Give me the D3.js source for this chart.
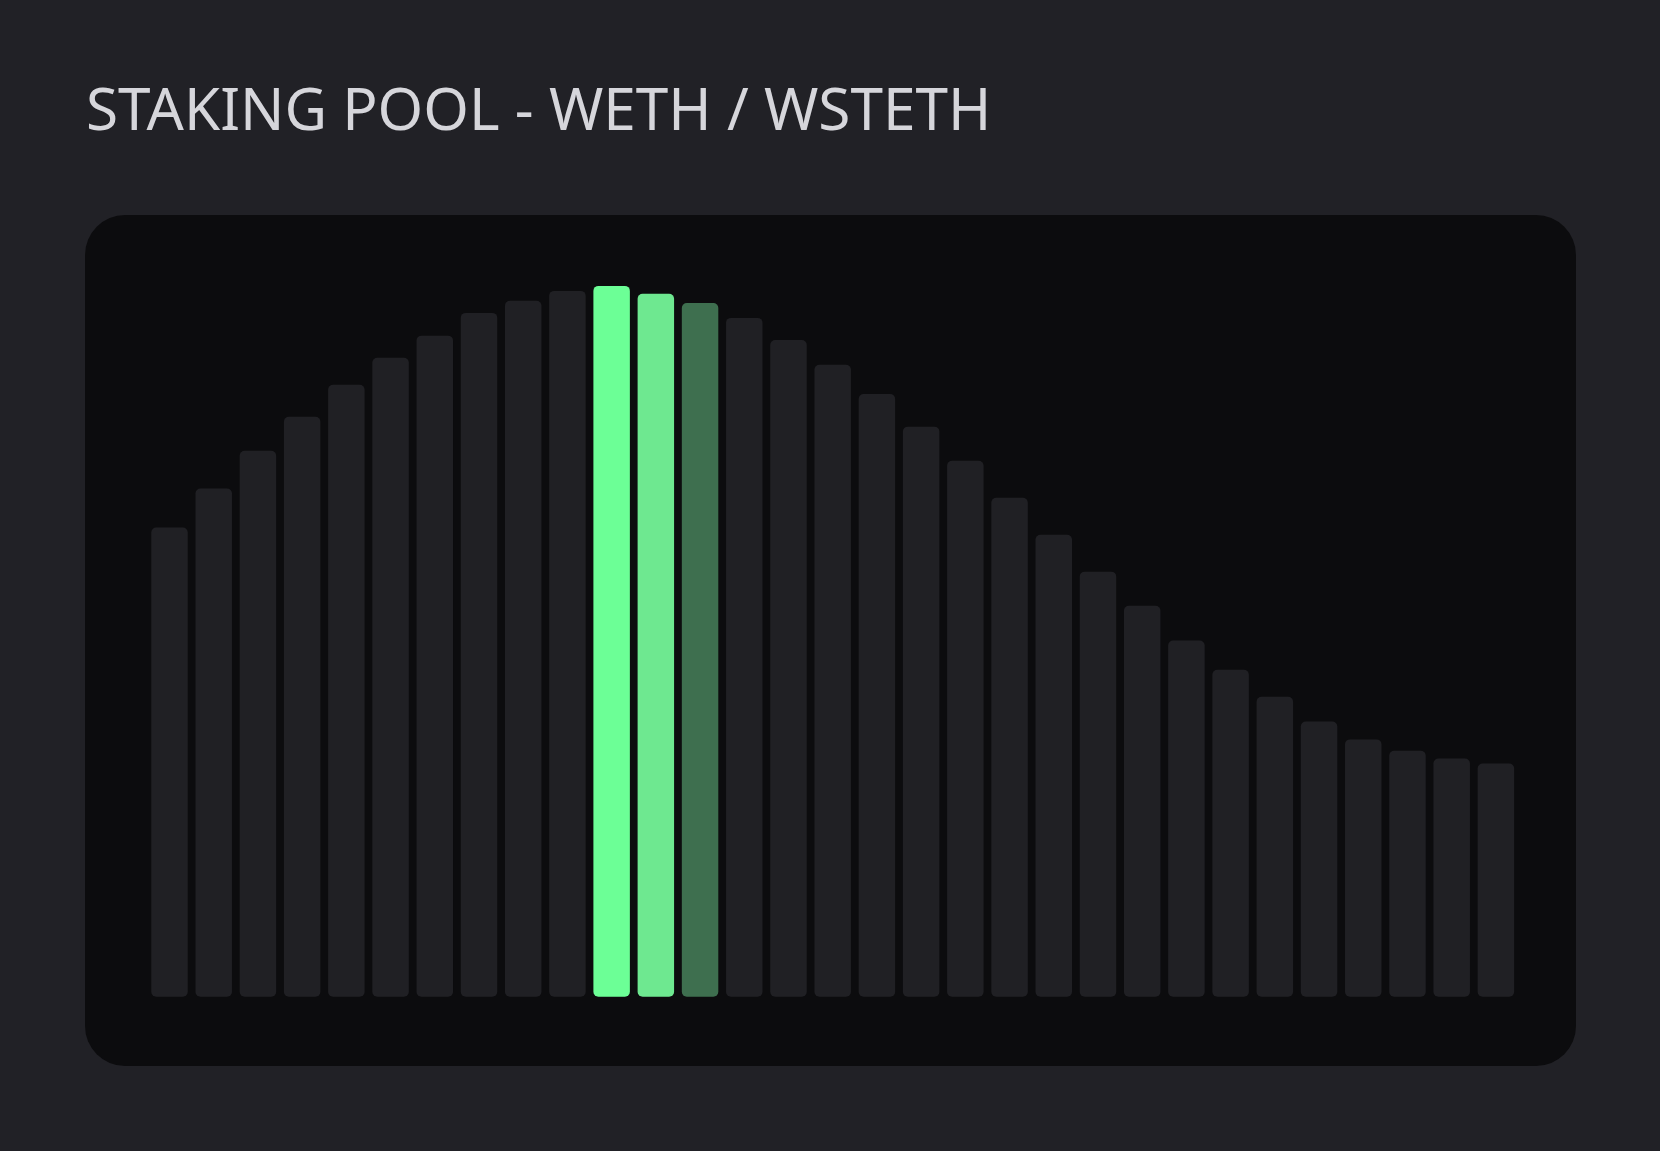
<!DOCTYPE html>
<html>
<head>
<meta charset="utf-8">
<script src="https://cdn.jsdelivr.net/npm/d3@7"></script>
<style>
  html, body { margin: 0; padding: 0; background: #212126; }
  svg { display: block; }
</style>
</head>
<body>
<div id="chart"></div>
<script>
// Plot constants
const WIDTH = 1660;
const HEIGHT = 1151;

// Data (relative pool depth per bucket, peak = 100)
const buckets = d3.range(1, 32);
const depth = [
  66.0, 71.5, 76.8, 81.6, 86.1, 89.9, 93.0, 96.2, 97.9, 99.3,
  100.0, 98.9, 97.6, 95.5, 92.4, 88.9, 84.8, 80.2, 75.4, 70.2,
  65.0, 59.8, 55.0, 50.1, 46.0, 42.2, 38.7, 36.2, 34.6, 33.5, 32.8,
];
// highlighted buckets and their colours
const activeBuckets = [11, 12, 13];
const activeColors = ["#6cff96", "#6ee890", "#3e6f4f"];

const titleText = "STAKING POOL - WETH / WSTETH";

const svg = d3
  .select("#chart")
  .append("svg")
  .attr("width", WIDTH)
  .attr("height", HEIGHT);

svg.append("rect")
  .attr("width", WIDTH)
  .attr("height", HEIGHT)
  .attr("fill", "#212126");

// Title
const title = svg
  .append("text")
  .attr("x", 86)
  .attr("y", 130)
  .attr("fill", "#d6d6db")
  .attr("font-family", "'Noto Sans', 'Open Sans', sans-serif")
  .attr("font-size", "58px")
  .text(titleText);

// fit title width to reference (~906px)
const tw = title.node().getComputedTextLength();
title.attr("font-size", (58 * 906 / tw).toFixed(1) + "px");

// Panel
const panel = { x: 85, y: 215, w: 1491, h: 851 };
svg.append("rect")
  .attr("x", panel.x)
  .attr("y", panel.y)
  .attr("width", panel.w)
  .attr("height", panel.h)
  .attr("rx", 40)
  .attr("fill", "#0c0c0e");

// Scales
const x = d3
  .scaleBand()
  .domain(buckets)
  .range([147.4, 1518])
  .paddingInner(0.175)
  .paddingOuter(0.0875);

const y = d3.scaleLinear().domain([0, 100]).range([996.7, 285.9]);

const colorOf = (b) => {
  const i = activeBuckets.indexOf(b);
  return i >= 0 ? activeColors[i] : "#202024";
};

// Bars
svg.append("g")
  .selectAll("rect")
  .data(buckets)
  .join("rect")
  .attr("x", (d) => x(d))
  .attr("y", (d, i) => y(depth[i]))
  .attr("width", x.bandwidth())
  .attr("height", (d, i) => y(0) - y(depth[i]))
  .attr("rx", 5)
  .attr("fill", (d) => colorOf(d));
</script>
</body>
</html>
